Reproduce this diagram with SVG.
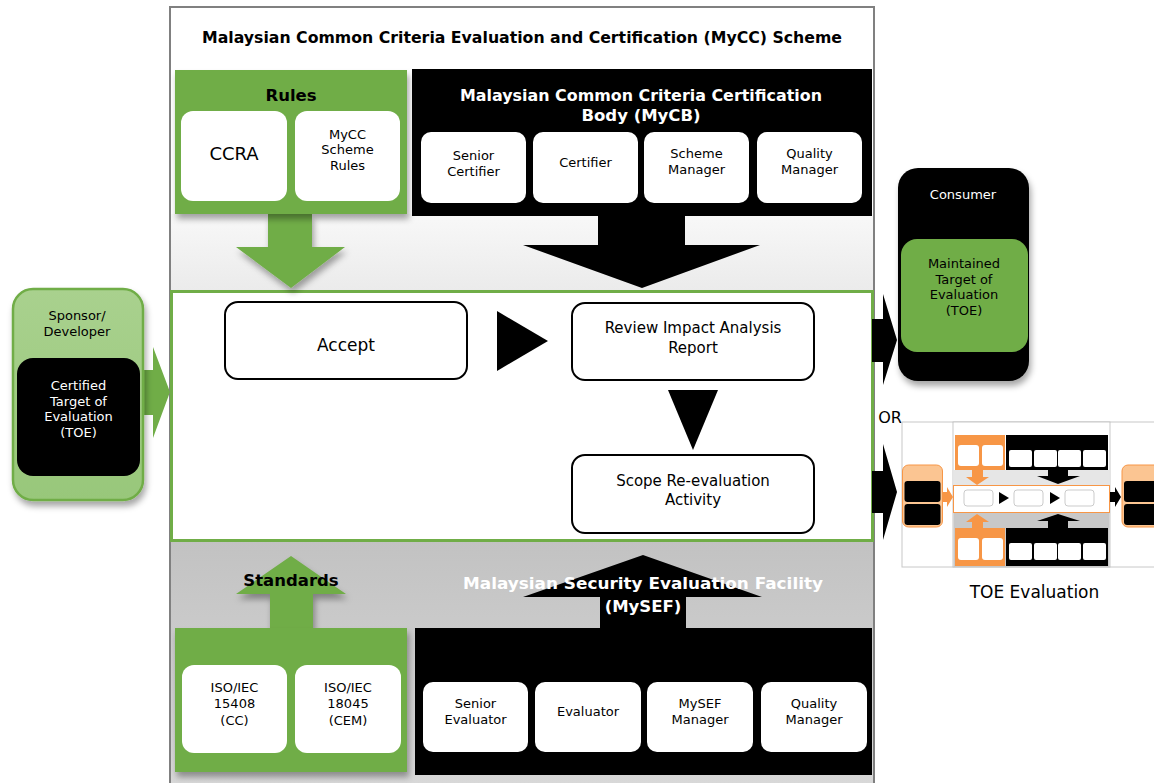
<svg xmlns="http://www.w3.org/2000/svg" width="1154" height="783" viewBox="0 0 1154 783">
<defs>
<linearGradient id="gTop" x1="0" y1="0" x2="0" y2="1"><stop offset="0" stop-color="#f8f8f8"/><stop offset="1" stop-color="#ebebeb"/></linearGradient>
<linearGradient id="gBot" x1="0" y1="0" x2="0" y2="1"><stop offset="0" stop-color="#c2c2c2"/><stop offset="1" stop-color="#d8d8d8"/></linearGradient>
<linearGradient id="gSp" x1="0" y1="0" x2="0" y2="1"><stop offset="0" stop-color="#a9d18e"/><stop offset="1" stop-color="#98c77a"/></linearGradient>
<filter id="sh" x="-20%" y="-20%" width="150%" height="150%"><feDropShadow dx="2" dy="5" stdDeviation="3" flood-color="#000" flood-opacity="0.35"/></filter>
<style>
text{font-family:"DejaVu Sans","Liberation Sans",sans-serif;text-anchor:middle;fill:#000}
.b{font-weight:bold}
.w{fill:#fff}
.t13{font-size:13px}
.card{fill:#fff}
.step{fill:#fff;stroke:#000;stroke-width:2}
.grn{fill:#70ad47}
.blk{fill:#000}
.or{fill:#f79646}
.mini{fill:#fff;stroke:#aaa;stroke-width:0.6}
</style>
</defs>
<rect width="1154" height="783" fill="#fff"/>
<g id="scheme-frame">
<rect x="170" y="7" width="704" height="790" fill="#fff" stroke="#808080" stroke-width="2"/>
<rect x="171" y="214" width="702" height="77" fill="url(#gTop)"/>
<rect x="171" y="541" width="702" height="242" fill="url(#gBot)"/>
<rect x="171.5" y="291.5" width="701" height="249" fill="#fff" stroke="#70ad47" stroke-width="3"/>
<text class="b" x="522" y="43" font-size="16" textLength="640" lengthAdjust="spacingAndGlyphs">Malaysian Common Criteria Evaluation and Certification (MyCC) Scheme</text>
</g>
<g id="connectors">
<path class="grn" filter="url(#sh)" d="M268,214 L312,214 L312,247 L345,247 L291,288 L236,247 L268,247 Z"/>
<path class="blk" d="M598,216 L685,216 L685,245 L760,245 L642,288 L523,245 L598,245 Z"/>
<path class="grn" filter="url(#sh)" d="M270,628 L313,628 L313,594 L346,594 L291,556 L236,594 L270,594 Z"/>
<path class="blk" d="M600,628 L686,628 L686,597 L762,597 L643,555 L523,597 L600,597 Z"/>
<path class="blk" d="M497,311 L548,341 L497,371 Z"/>
<path class="blk" d="M668,390 L718,390 L693,450 Z"/>
<path class="grn" d="M140,370 L153,370 L153,347 L170,392 L153,438 L153,415 L140,415 Z"/>
<path class="blk" d="M872,319 L883,319 L883,294 L897,340 L883,385 L883,362 L872,362 Z"/>
<path class="blk" d="M872,471 L883,471 L883,444 L897,492 L883,540 L883,513 L872,513 Z"/>
</g>
<g id="rules">
<rect class="grn" filter="url(#sh)" x="175" y="70" width="232" height="144"/>
<text class="b" x="291" y="101" font-size="16.5">Rules</text>
<rect class="card" x="181" y="111" width="106" height="90" rx="12"/>
<text x="234" y="160" font-size="18">CCRA</text>
<rect class="card" x="295" y="111" width="105" height="90" rx="12"/>
<text class="t13" x="347.5" y="139">MyCC</text>
<text class="t13" x="347.5" y="154">Scheme</text>
<text class="t13" x="347.5" y="170">Rules</text>
</g>
<g id="mycb">
<rect class="blk" x="412" y="69" width="460" height="147"/>
<text class="b w" x="641" y="101" font-size="16.5" textLength="362" lengthAdjust="spacingAndGlyphs">Malaysian Common Criteria Certification</text>
<text class="b w" x="641" y="121" font-size="16.5">Body (MyCB)</text>
<rect class="card" x="421" y="132" width="105" height="71" rx="10"/>
<text class="t13" x="473.5" y="160">Senior</text>
<text class="t13" x="473.5" y="176">Certifier</text>
<rect class="card" x="533" y="132" width="105" height="71" rx="10"/>
<text class="t13" x="585.5" y="167">Certifier</text>
<rect class="card" x="644" y="132" width="105" height="71" rx="10"/>
<text class="t13" x="696.5" y="158">Scheme</text>
<text class="t13" x="696.5" y="174">Manager</text>
<rect class="card" x="757" y="132" width="105" height="71" rx="10"/>
<text class="t13" x="809.5" y="158">Quality</text>
<text class="t13" x="809.5" y="174">Manager</text>
</g>
<g id="accept">
<rect class="step" x="225" y="302" width="242" height="77" rx="13"/>
<text x="346" y="351" font-size="17">Accept</text>
</g>
<g id="review">
<rect class="step" x="572" y="303" width="242" height="77" rx="13"/>
<text x="693" y="333" font-size="15">Review Impact Analysis</text>
<text x="693" y="353" font-size="15">Report</text>
</g>
<g id="scope">
<rect class="step" x="572" y="455" width="242" height="78" rx="13"/>
<text x="693" y="486" font-size="15">Scope Re-evaluation</text>
<text x="693" y="505" font-size="15">Activity</text>
</g>
<g id="standards">
<rect class="grn" filter="url(#sh)" x="175" y="628" width="232" height="144"/>
<text class="b" x="291" y="586" font-size="16.5">Standards</text>
<rect class="card" x="182" y="665" width="105" height="88" rx="12"/>
<text class="t13" x="234.5" y="692">ISO/IEC</text>
<text class="t13" x="234.5" y="708">15408</text>
<text class="t13" x="234.5" y="725">(CC)</text>
<rect class="card" x="295" y="665" width="106" height="88" rx="12"/>
<text class="t13" x="348" y="692">ISO/IEC</text>
<text class="t13" x="348" y="708">18045</text>
<text class="t13" x="348" y="725">(CEM)</text>
</g>
<g id="mysef">
<rect class="blk" x="415" y="628" width="457" height="147"/>
<text class="b w" x="643" y="589" font-size="16.5" textLength="360" lengthAdjust="spacingAndGlyphs">Malaysian Security Evaluation Facility</text>
<text class="b w" x="643" y="612" font-size="16.5">(MySEF)</text>
<rect class="card" x="423" y="682" width="105" height="70" rx="10"/>
<text class="t13" x="475.5" y="708">Senior</text>
<text class="t13" x="475.5" y="724">Evaluator</text>
<rect class="card" x="535" y="682" width="106" height="70" rx="10"/>
<text class="t13" x="588" y="716">Evaluator</text>
<rect class="card" x="647" y="682" width="106" height="70" rx="10"/>
<text class="t13" x="700" y="708">MySEF</text>
<text class="t13" x="700" y="724">Manager</text>
<rect class="card" x="761" y="682" width="106" height="70" rx="10"/>
<text class="t13" x="814" y="708">Quality</text>
<text class="t13" x="814" y="724">Manager</text>
</g>
<g id="sponsor">
<rect x="13" y="289" width="130" height="211" rx="20" fill="url(#gSp)" stroke="#70ad47" stroke-width="2.5" filter="url(#sh)"/>
<text class="t13" x="77" y="320" fill="#1a1a1a">Sponsor/</text>
<text class="t13" x="77" y="336" fill="#1a1a1a">Developer</text>
<rect class="blk" x="17" y="358" width="123" height="118" rx="16"/>
<text class="t13 w" x="78.5" y="390">Certified</text>
<text class="t13 w" x="78.5" y="406">Target of</text>
<text class="t13 w" x="78.5" y="421">Evaluation</text>
<text class="t13 w" x="78.5" y="437">(TOE)</text>
</g>
<g id="consumer">
<rect class="blk" x="898" y="168" width="131" height="213" rx="20" filter="url(#sh)"/>
<text class="t13 w" x="963" y="199">Consumer</text>
<rect class="grn" x="901" y="239" width="127" height="113" rx="16"/>
<text class="t13" x="964" y="268">Maintained</text>
<text class="t13" x="964" y="284">Target of</text>
<text class="t13" x="964" y="299">Evaluation</text>
<text class="t13" x="964" y="315">(TOE)</text>
</g>
<g id="or-label">
<text x="890" y="423" font-size="16">OR</text>
</g>
<g id="toe-evaluation">
<rect x="902" y="422" width="260" height="145" fill="#fff" stroke="#c8c8c8" stroke-width="1"/>
<rect x="953" y="422" width="157" height="145" fill="#fff" stroke="#bbb" stroke-width="0.8"/>
<rect x="953.5" y="470" width="156" height="15" fill="#e6e6e6"/>
<rect x="953.5" y="513" width="156" height="54" fill="#c8c8c8"/>
<rect class="or" x="955" y="435" width="50" height="35"/>
<rect class="card" x="958" y="445" width="21" height="21" rx="3"/>
<rect class="card" x="982" y="445" width="21" height="21" rx="3"/>
<rect class="blk" x="1006" y="435" width="102" height="35"/>
<rect class="card" x="1009" y="450" width="23" height="17" rx="2"/>
<rect class="card" x="1034" y="450" width="23" height="17" rx="2"/>
<rect class="card" x="1058" y="450" width="23" height="17" rx="2"/>
<rect class="card" x="1083" y="450" width="23" height="17" rx="2"/>
<path class="or" d="M972,470 L983,470 L983,477 L989,477 L977,485 L966,477 L972,477 Z"/>
<path class="blk" d="M1048,470 L1068,470 L1068,476 L1080,476 L1058,484 L1037,476 L1048,476 Z"/>
<rect x="953.5" y="485.5" width="156" height="27" fill="#fff" stroke="#f79646" stroke-width="1"/>
<rect class="mini" x="964" y="490" width="29" height="16" rx="3"/>
<rect class="mini" x="1014" y="490" width="29" height="16" rx="3"/>
<rect class="mini" x="1065" y="490" width="29" height="16" rx="3"/>
<path class="blk" d="M999,492 L1009,498 L999,504 Z"/>
<path class="blk" d="M1050,492 L1060,498 L1050,504 Z"/>
<path class="or" d="M972,528 L983,528 L983,522 L989,522 L977,514 L966,522 L972,522 Z"/>
<path class="blk" d="M1048,528 L1068,528 L1068,521 L1080,521 L1058,514 L1037,521 L1048,521 Z"/>
<rect class="or" x="955" y="528" width="50" height="38"/>
<rect class="card" x="958" y="538" width="21" height="22" rx="3"/>
<rect class="card" x="982" y="538" width="21" height="22" rx="3"/>
<rect class="blk" x="1006" y="528" width="102" height="38"/>
<rect class="card" x="1009" y="543" width="23" height="17" rx="2"/>
<rect class="card" x="1034" y="543" width="23" height="17" rx="2"/>
<rect class="card" x="1058" y="543" width="23" height="17" rx="2"/>
<rect class="card" x="1083" y="543" width="23" height="17" rx="2"/>
<rect x="902.5" y="465" width="40" height="62" rx="6" fill="#fbc592" stroke="#f79646" stroke-width="1"/>
<rect class="blk" x="904.5" y="481" width="36" height="21" rx="3"/>
<rect class="blk" x="904.5" y="504" width="36" height="21" rx="3"/>
<path class="or" d="M942,492 L947,492 L947,487 L953,497 L947,507 L947,502 L942,502 Z"/>
<path class="blk" d="M1110,492 L1115,492 L1115,487 L1121,497 L1115,507 L1115,502 L1110,502 Z"/>
<rect x="1122" y="465" width="40" height="62" rx="6" fill="#fbc592" stroke="#f79646" stroke-width="1"/>
<rect class="blk" x="1124" y="481" width="36" height="21" rx="3"/>
<rect class="blk" x="1124" y="504" width="36" height="21" rx="3"/>
<text x="1034.5" y="598" font-size="17">TOE Evaluation</text>
</g>
</svg>
